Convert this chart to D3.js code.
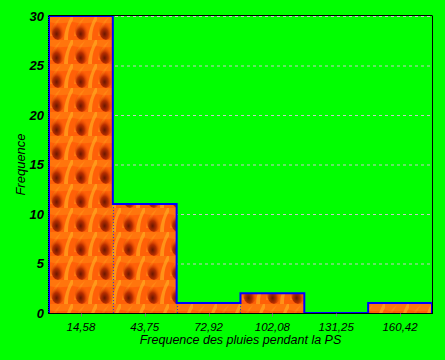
<!DOCTYPE html>
<html><head><meta charset="utf-8">
<script src="https://cdn.jsdelivr.net/npm/d3@7"></script>
<style>body{margin:0;background:#00ff00;}svg{display:block;}</style>
</head><body>
<svg id="c" width="445" height="360"></svg>
<script>
const binLabels = ["14,58","43,75","72,92","102,08","131,25","160,42"];
const binCenters = [14.58,43.75,72.92,102.08,131.25,160.42];
const binWidth = 29.17;
const counts = [30,11,1,2,0,1];
const yTicks = [0,5,10,15,20,25,30];

const W=445,H=360;
const m={l:49,r:13,t:16,b:47};
const svg=d3.select("#c");
svg.append("rect").attr("width",W).attr("height",H).attr("fill","#00ff00");

const x=d3.scaleLinear().domain([0,binWidth*6]).range([m.l,W-m.r]);
const y=d3.scaleLinear().domain([0,30]).range([H-m.b,m.t]);

// fire pattern
const defs=svg.append("defs");
const og=defs.append("radialGradient").attr("id","og").attr("cx","0.4").attr("cy","0.7").attr("r","0.6");
og.append("stop").attr("offset","0").attr("stop-color","#6a1600");
og.append("stop").attr("offset","0.45").attr("stop-color","#b82e00");
og.append("stop").attr("offset","1").attr("stop-color","#ff5a00").attr("stop-opacity","0");
const pat=defs.append("pattern").attr("id","fire").attr("patternUnits","userSpaceOnUse")
  .attr("width",24).attr("height",24).attr("x",m.l).attr("y",m.t);
pat.append("rect").attr("width",24).attr("height",24).attr("fill","#ff6008");
pat.append("path").attr("d","M0,0 L24,0 L24,6 C17,7 8,8 0,6 Z").attr("fill","#ff7e10").attr("opacity",0.7);
pat.append("path").attr("d","M15,24 C15,16 18,8 22,0 L24,0 L24,4 C20,10 19,17 19,24 Z").attr("fill","#ffa820").attr("opacity",0.7);
pat.append("path").attr("d","M1,20 C2,12 6,5 12,1 C8,7 5,13 4,20 Z").attr("fill","#ff9418").attr("opacity",0.55);
pat.append("ellipse").attr("cx",9).attr("cy",14).attr("rx",7).attr("ry",10).attr("fill","url(#og)");

// gridlines
svg.append("g").selectAll("line").data(yTicks.filter(d=>d>0)).join("line")
  .attr("x1",m.l).attr("x2",W-m.r).attr("y1",d=>y(d)+0.5).attr("y2",d=>y(d)+0.5)
  .attr("stroke","#c8c8c8").attr("stroke-dasharray","3,3");

// bars
const bars=binCenters.map((c,i)=>({x0:c-binWidth/2,x1:c+binWidth/2,v:counts[i]}));
svg.append("g").selectAll("rect").data(bars.filter(d=>d.v>0)).join("rect")
  .attr("x",d=>x(d.x0)).attr("width",d=>x(d.x1)-x(d.x0))
  .attr("y",d=>y(d.v)).attr("height",d=>y(0)-y(d.v)).attr("fill","url(#fire)");

// inner dotted separators
svg.append("g").selectAll("line").data(bars.slice(1).map((d,i)=>({xv:d.x0,h:Math.min(d.v,bars[i].v)})).filter(d=>d.h>0)).join("line")
  .attr("x1",d=>Math.round(x(d.xv))+0.5).attr("x2",d=>Math.round(x(d.xv))+0.5)
  .attr("y1",d=>y(d.h)).attr("y2",y(0))
  .attr("stroke","#4020e0").attr("stroke-dasharray","1,2");

// outline step
const pts=[];
pts.push([x(bars[0].x0),y(0)]);
bars.forEach(d=>{pts.push([x(d.x0),y(d.v)]);pts.push([x(d.x1),y(d.v)]);});
pts.push([x(bars[bars.length-1].x1),y(0)]);
svg.append("path").attr("d",d3.line()(pts)).attr("fill","none").attr("stroke","#0000ff").attr("stroke-width",2);

// frame
svg.append("line").attr("x1",m.l).attr("x2",W-m.r).attr("y1",m.t-0.5).attr("y2",m.t-0.5).attr("stroke","#000");
svg.append("line").attr("x1",W-m.r+0.5).attr("x2",W-m.r+0.5).attr("y1",m.t-0.5).attr("y2",y(0)).attr("stroke","#000");
svg.append("line").attr("x1",m.l-0.5).attr("x2",m.l-0.5).attr("y1",m.t).attr("y2",y(0)).attr("stroke","#000").attr("stroke-dasharray","1,1");

// x axis
const xa=svg.append("g").attr("transform",`translate(0,${y(0)+0.5})`);
xa.append("line").attr("x1",m.l-1).attr("x2",W-m.r+1).attr("stroke","#000");
xa.selectAll("line.t").data(binCenters).join("line").attr("class","t")
  .attr("x1",d=>Math.round(x(d))+0.5).attr("x2",d=>Math.round(x(d))+0.5).attr("y1",0).attr("y2",3).attr("stroke","#808080");
xa.selectAll("text").data(binCenters).join("text")
  .attr("x",d=>x(d)).attr("y",17.5).attr("text-anchor","middle")
  .attr("font-family","Liberation Sans, Arial, sans-serif").attr("font-size",11.5).attr("font-style","italic")
  .text((d,i)=>binLabels[i]);

// y axis labels
svg.append("g").selectAll("text").data(yTicks).join("text")
  .attr("x",m.l-5).attr("y",d=>y(d)+4.5).attr("text-anchor","end")
  .attr("font-family","Liberation Sans, Arial, sans-serif").attr("font-size",13).attr("font-weight","bold").attr("font-style","italic")
  .text(d=>d);

// titles
svg.append("text").attr("x",(m.l+W-m.r)/2).attr("y",344).attr("text-anchor","middle")
  .attr("font-family","Liberation Sans, Arial, sans-serif").attr("font-size",12.5).attr("font-style","italic")
  .text("Frequence des pluies pendant la PS");
svg.append("text").attr("transform",`translate(25,${(m.t+y(0))/2}) rotate(-90)`).attr("text-anchor","middle")
  .attr("font-family","Liberation Sans, Arial, sans-serif").attr("font-size",13).attr("font-style","italic")
  .text("Frequence");
</script>
</body></html>
